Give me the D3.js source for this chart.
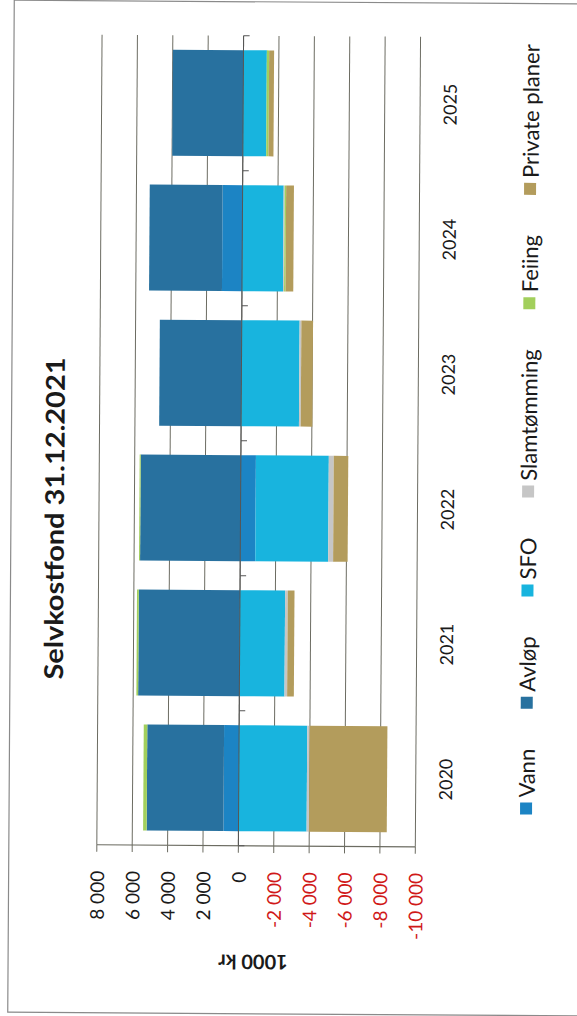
<!DOCTYPE html>
<html><head><meta charset="utf-8">
<script src="https://cdn.jsdelivr.net/npm/d3@7"></script>
<style>html,body{margin:0;padding:0;background:#fff;} svg{display:block;font-family:Lato,"Open Sans",sans-serif;}</style>
</head><body><svg id="c" width="577" height="1016"></svg>
<script>
// ---- data (1000 kr) ----
const years = ["2020", "2021", "2022", "2023", "2024", "2025"];
const vann = [850, 0, -850, 0, 1130, 0];
const avlop = [4340, 5720, 5660, 4630, 4120, 3990];
const sfo = [-3850, -2550, -4120, -3270, -2320, -1320];
const slamtomming = [-130, -150, -280, -100, -60, 0];
const feiing = [200, 100, 60, 0, -80, -130];
const privatePlaner = [-4400, -380, -820, -660, -440, -280];
const seriesNames = ["Vann", "Avløp", "SFO", "Slamtømming", "Feiing", "Private planer"];
const tickValues = [8000, 6000, 4000, 2000, 0, -2000, -4000, -6000, -8000, -10000];
const titleText = "Selvkostfond 31.12.2021";
const axisTitle = "1000 kr";

const colors = ["#1c84c4", "#28719f", "#18b4de", "#c6c6c6", "#a2cf5c", "#b39c5c"];

const rows = years.map((y, i) => ({
  year: y, "Vann": vann[i], "Avløp": avlop[i], "SFO": sfo[i],
  "Slamtømming": slamtomming[i], "Feiing": feiing[i], "Private planer": privatePlaner[i]
}));

const svg = d3.select("#c");
// chart drawn in its own (unrotated) frame: u along 0..1016, v along 0..577, then turned
const root = svg.append("g")
  .attr("transform", "rotate(0.37,288,508) translate(0,1016) rotate(-90)");

root.append("rect").attr("x", 2).attr("y", 11).attr("width", 1012).attr("height", 570)
  .attr("fill", "none").attr("stroke", "#8a8a8a").attr("stroke-width", 1.2);

const x = d3.scaleBand().domain(years).range([170, 980]).paddingInner(0.215).paddingOuter(0.1075);
const y = d3.scaleLinear().domain([-10000, 8000]).range([417.5, 99]);

// gridlines
root.append("g").selectAll("line").data(tickValues).join("line")
  .attr("x1", 170).attr("x2", 980)
  .attr("y1", d => y(d)).attr("y2", d => y(d))
  .attr("stroke", "#6c6c62").attr("stroke-width", 1);

// value axis line + ticks
root.append("line").attr("x1", 170).attr("x2", 170).attr("y1", y(8000)).attr("y2", y(-10000))
  .attr("stroke", "#6c6c62").attr("stroke-width", 1.2);
root.append("g").selectAll("line").data(tickValues).join("line")
  .attr("x1", 163).attr("x2", 170).attr("y1", d => y(d)).attr("y2", d => y(d))
  .attr("stroke", "#6c6c62").attr("stroke-width", 1);

// bars
const stack = d3.stack().keys(seriesNames).offset(d3.stackOffsetDiverging);
const stacked = stack(rows);
root.append("g").selectAll("g").data(stacked).join("g")
  .attr("fill", (d, i) => colors[i])
  .selectAll("rect").data(d => d).join("rect")
  .attr("x", d => x(d.data.year))
  .attr("width", x.bandwidth())
  .attr("y", d => y(Math.max(d[0], d[1])))
  .attr("height", d => Math.abs(y(d[0]) - y(d[1])));

// category axis at zero with outward ticks
root.append("line").attr("x1", 170).attr("x2", 980).attr("y1", y(0)).attr("y2", y(0))
  .attr("stroke", "#555").attr("stroke-width", 1);
const bounds = d3.range(years.length + 1).map(i => 170 + i * x.step());
root.append("g").selectAll("line").data(bounds).join("line")
  .attr("x1", d => d).attr("x2", d => d).attr("y1", y(0)).attr("y2", y(0) + 6)
  .attr("stroke", "#555").attr("stroke-width", 1);

// tick labels
const fmt = t => (t < 0 ? "-" : "") + d3.format(",")(Math.abs(t)).replace(/,/g, " ");
root.append("g").selectAll("text").data(tickValues).join("text")
  .attr("x", 144).attr("y", d => y(d)).attr("text-anchor", "end")
  .attr("dominant-baseline", "central").attr("font-size", 19)
  .attr("fill", d => d < 0 ? "#d01818" : "#1a1a1a").text(fmt);

// category labels
root.append("g").selectAll("text").data(years).join("text")
  .attr("x", d => x(d) + x.bandwidth() / 2).attr("y", 447)
  .attr("text-anchor", "middle").attr("dominant-baseline", "central")
  .attr("font-size", 18).attr("fill", "#1a1a1a").text(d => d);

// axis title
root.append("text").attr("transform", "translate(53,256) rotate(-90)")
  .attr("text-anchor", "middle").attr("dominant-baseline", "central")
  .attr("font-size", 20).attr("font-weight", "bold").attr("fill", "#1a1a1a").text(axisTitle);

// chart title
root.append("text").attr("x", 496).attr("y", 54)
  .attr("text-anchor", "middle").attr("dominant-baseline", "central")
  .attr("font-size", 26).attr("font-weight", "bold").attr("fill", "#1a1a1a")
  .attr("textLength", 322).attr("lengthAdjust", "spacingAndGlyphs").text(titleText);

// legend
const lg = root.append("g").attr("transform", "translate(203,528)");
let cur = 0;
const gap = 40;
seriesNames.forEach((n, i) => {
  const g = lg.append("g");
  g.append("rect").attr("x", 0).attr("y", -6).attr("width", 12).attr("height", 12).attr("fill", colors[i]);
  const t = g.append("text").attr("x", 17).attr("y", 0).attr("dominant-baseline", "central")
    .attr("font-size", 22).attr("fill", "#1a1a1a").text(n);
  const w = 17 + t.node().getComputedTextLength();
  g.attr("transform", `translate(${cur},0)`);
  cur += w + gap;
});
</script></body></html>
